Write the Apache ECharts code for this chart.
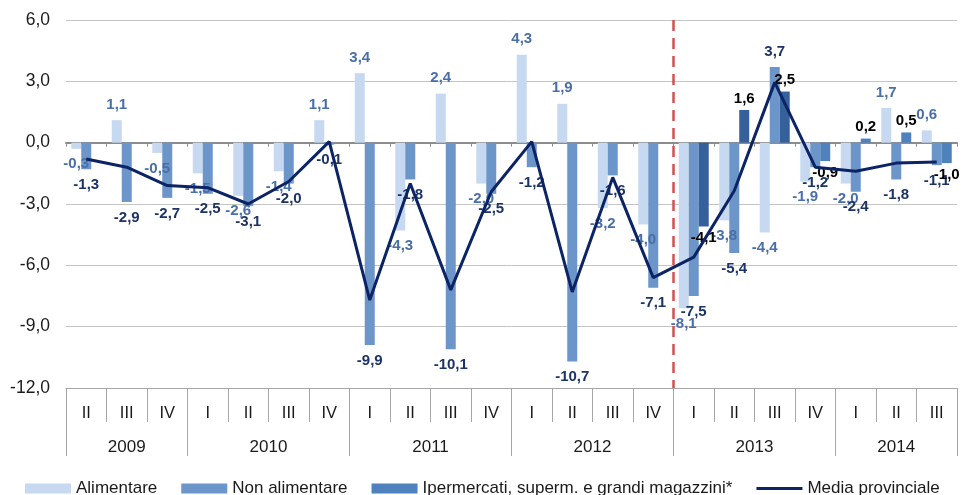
<!DOCTYPE html>
<html><head><meta charset="utf-8">
<script src="https://cdn.jsdelivr.net/npm/echarts@6/dist/echarts.min.js"></script>
<style>html,body{margin:0;padding:0;background:#fff}#c{width:961px;height:495px}</style>
</head><body><div id="c"></div>
<script>
// ---- data ----
const quarters = ['II','III','IV','I','II','III','IV','I','II','III','IV','I','II','III','IV','I','II','III','IV','I','II','III'];
const years = ['2009','2010','2011','2012','2013','2014'];
const quartersPerYear = [3, 4, 4, 4, 4, 3];
const alimentare = [-0.3, 1.1, -0.5, -1.5, -2.6, -1.4, 1.1, 3.4, -4.3, 2.4, -2.0, 4.3, 1.9, -3.2, -4.0, -8.1, -3.8, -4.4, -1.9, -2.0, 1.7, 0.6];
const nonAlimentare = [-1.3, -2.9, -2.7, -2.5, -3.1, -2.0, -0.1, -9.9, -1.8, -10.1, -2.5, -1.2, -10.7, -1.6, -7.1, -7.5, -5.4, 3.7, -1.2, -2.4, -1.8, -1.1];
const ipermercati = [null, null, null, null, null, null, null, null, null, null, null, null, null, null, null, -4.1, 1.6, 2.5, -0.9, 0.2, 0.5, -1.0];
const mediaProvinciale = [-0.8, -1.2, -2.1, -2.2, -3.0, -1.9, 0.05, -7.7, -2.0, -7.2, -2.4, 0.05, -7.3, -1.7, -6.6, -5.6, -2.35, 2.95, -1.2, -1.4, -1.0, -0.95];
const yMin = -12, yMax = 6, yInterval = 3;
const breakBeforeIndex = 15; // dashed line before 2013 I

// ---- helpers ----
const FONT = 'Liberation Sans, Arial, sans-serif';
const fmt = v => Number(v).toFixed(1).replace('.', ',');

// half-step axis for year row (boundaryGap false, 2 slots per quarter)
const halfCount = quarters.length * 2 + 1;
const halfNames = [];
const halfLabels = new Array(halfCount).fill('');
const boundarySet = new Set();
let start = 0;
years.forEach((y, i) => {
  boundarySet.add(2 * start);
  halfLabels[2 * start + quartersPerYear[i]] = y;
  start += quartersPerYear[i];
});
boundarySet.add(2 * start);
for (let i = 0; i < halfCount; i++) halfNames.push(String(i));

function barData(arr) {
  return arr.map(v => v == null ? null : { value: v, label: { position: v >= 0 ? 'top' : 'bottom' } });
}
const labelBase = { show: true, fontFamily: FONT, fontSize: 15, fontWeight: 'bold', distance: 8, formatter: p => fmt(p.value) };
const lineIcon = 'path://M0,0L0.05,0L0,0.05Z M0,3.5L46,3.5L46,6.5L0,6.5Z M0,10L0.05,10L0,9.95Z';

const chart = echarts.init(document.getElementById('c'), null, { renderer: 'canvas' });
chart.setOption({
  animation: false,
  backgroundColor: '#fff',
  textStyle: { fontFamily: FONT },
  grid: { left: 66, right: 4, top: 20, bottom: 107, containLabel: false },
  legend: {
    top: 475, left: 20, width: 940, itemWidth: 46, itemHeight: 10, itemGap: 24,
    textStyle: { fontFamily: FONT, fontSize: 17, color: '#1a1a1a' },
    data: [
      { name: 'Alimentare', icon: 'rect' },
      { name: 'Non alimentare', icon: 'rect' },
      { name: 'Ipermercati, superm. e grandi magazzini*', icon: 'rect', itemStyle: { color: '#4f81bd' } },
      { name: 'Media provinciale', icon: lineIcon, itemStyle: { color: '#0c2466' } }
    ]
  },
  xAxis: [
    { // zero line with ticks
      type: 'category', data: quarters, position: 'bottom', boundaryGap: true,
      axisLine: { show: true, onZero: true, lineStyle: { color: '#8c8c8c', width: 2 } },
      axisTick: { show: true, interval: 0, length: 4, lineStyle: { color: '#8c8c8c' } },
      axisLabel: { show: false }, splitLine: { show: false }
    },
    { // quarter row
      type: 'category', data: quarters, position: 'bottom', boundaryGap: true,
      axisLine: { show: true, onZero: false, lineStyle: { color: '#a6a6a6', width: 1 } },
      axisTick: { show: true, interval: 0, length: 34, lineStyle: { color: '#a6a6a6' } },
      axisLabel: { show: true, interval: 0, margin: 17, fontFamily: FONT, fontSize: 16.5, color: '#1a1a1a' },
      splitLine: { show: false }
    },
    { // year row
      type: 'category', data: halfNames, position: 'bottom', boundaryGap: false,
      axisLine: { show: false, onZero: false },
      axisTick: { show: true, interval: (idx) => boundarySet.has(idx), length: 68, lineStyle: { color: '#a6a6a6' } },
      axisLabel: { show: true, interval: 0, margin: 51, fontFamily: FONT, fontSize: 17, color: '#1a1a1a',
        formatter: (v, idx) => halfLabels[idx] },
      splitLine: { show: false }
    }
  ],
  yAxis: {
    type: 'value', min: yMin, max: yMax, interval: yInterval,
    axisLine: { show: false }, axisTick: { show: false },
    axisLabel: { fontFamily: FONT, fontSize: 17.5, color: '#1a1a1a', margin: 16, formatter: v => fmt(v) },
    splitLine: { lineStyle: { color: '#c4c4c4', width: 1 } }
  },
  series: [
    {
      name: 'Alimentare', type: 'bar', xAxisIndex: 0, data: barData(alimentare),
      barGap: '0%', barCategoryGap: '26%',
      itemStyle: { color: '#c6d9f1' },
      label: Object.assign({}, labelBase, { color: '#4a6fa8' })
    },
    {
      name: 'Non alimentare', type: 'bar', xAxisIndex: 0, data: barData(nonAlimentare),
      barGap: '0%', barCategoryGap: '26%',
      itemStyle: { color: '#6c95c9' },
      label: Object.assign({}, labelBase, { color: '#1c3366' })
    },
    {
      name: 'Ipermercati, superm. e grandi magazzini*', type: 'bar', xAxisIndex: 0, data: barData(ipermercati),
      barGap: '0%', barCategoryGap: '26%',
      itemStyle: { color: p => p.dataIndex < 18 ? '#36609a' : '#4f81bd' },
      label: Object.assign({}, labelBase, { color: '#000', distance: 4 })
    },
    {
      name: 'Media provinciale', type: 'line', xAxisIndex: 0, data: mediaProvinciale,
      symbol: 'none', z: 5,
      lineStyle: { color: '#0c2466', width: 3 },
      itemStyle: { color: '#0c2466' }
    },
    {
      name: 'break', type: 'line', xAxisIndex: 2, data: halfNames.map(() => null), symbol: 'none',
      silent: true,
      markLine: {
        silent: true, symbol: 'none', label: { show: false },
        lineStyle: { color: '#d45050', width: 2.5, type: [11, 7] },
        data: [[{ coord: [breakBeforeIndex * 2, yMax] }, { coord: [breakBeforeIndex * 2, yMin] }]]
      }
    }
  ]
});
</script>
</body></html>
